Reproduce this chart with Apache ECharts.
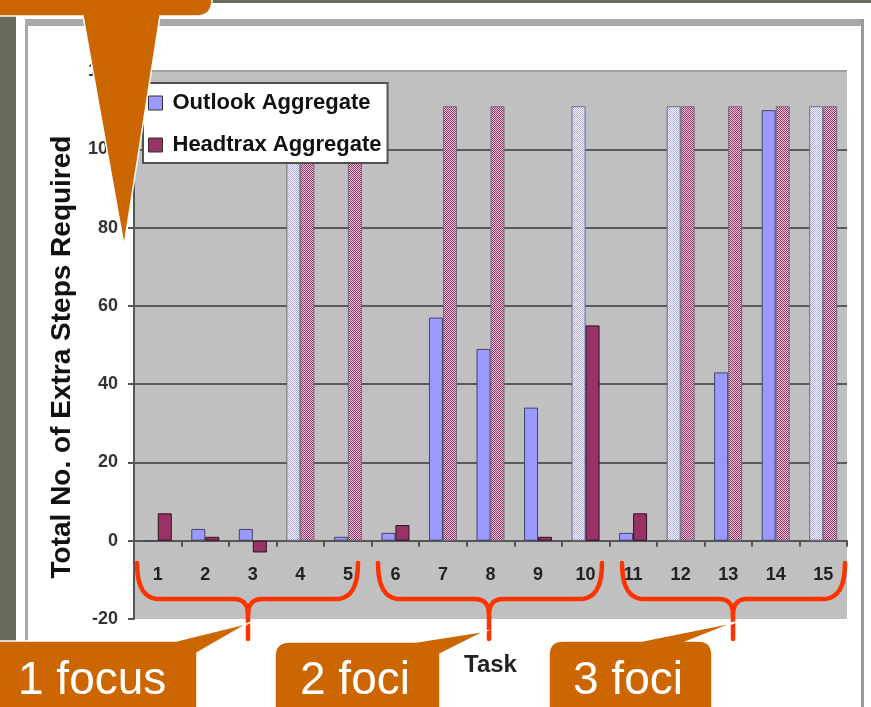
<!DOCTYPE html>
<html>
<head>
<meta charset="utf-8">
<script src="https://cdn.jsdelivr.net/npm/echarts@6/dist/echarts.min.js"></script>
<style>
  html, body { margin: 0; padding: 0; background: #ffffff; }
  #chart { width: 871px; height: 707px; }
</style>
</head>
<body>
<div id="chart"></div>
<script>
// Tasks on the x axis
const tasks = ['1', '2', '3', '4', '5', '6', '7', '8', '9', '10', '11', '12', '13', '14', '15'];

// Extra steps needed per task, for each tool
const outlookSteps = [0, 3, 3, 111, 1, 2, 57, 49, 34, 111, 2, 111, 43, 110, 111];
const headtraxSteps = [7, 1, -3, 111, 111, 4, 111, 111, 1, 55, 7, 111, 111, 111, 111];

// Bars that reach this ceiling are drawn with a checkered fill
const stepCeiling = 111;

// Value axis range and step
const yMin = -20;
const yMax = 120;
const yStep = 20;

// Grouping annotations under the task axis
const groupLabels = ['1 focus', '2 foci', '3 foci'];

const FONT = '"Liberation Sans", Arial, sans-serif';

function checker(a, b) {
  const c = document.createElement('canvas');
  c.width = 2; c.height = 2;
  const g = c.getContext('2d');
  g.fillStyle = b; g.fillRect(0, 0, 2, 2);
  g.fillStyle = a; g.fillRect(0, 0, 1, 1); g.fillRect(1, 1, 1, 1);
  return c;
}
const outlookHatch = { image: checker('#a8a8f4', '#ffffff'), repeat: 'repeat' };
const headtraxHatch = { image: checker('#993366', '#ecc8dc'), repeat: 'repeat' };

function styled(values, hatch) {
  return values.map(v => v >= stepCeiling
    ? { value: v, itemStyle: { color: hatch, borderColor: '#6c6c7c' } }
    : v);
}

const ORANGE = '#cc6600';
const RED = '#ff3300';

// sample a quadratic curve into points (start point excluded)
function quad(p0, c, p1, n) {
  const pts = [];
  for (let i = 1; i <= n; i++) {
    const t = i / n, u = 1 - t;
    pts.push([u * u * p0[0] + 2 * u * t * c[0] + t * t * p1[0],
              u * u * p0[1] + 2 * u * t * c[1] + t * t * p1[1]]);
  }
  return pts;
}

// one curly brace as two polylines meeting at the cusp
function brace(x1, xm, x2) {
  const top = 563, mid = 599, tip = 639, bend = mid + 16;
  const left = [[x1, top]]
    .concat(quad([x1, top], [x1, mid], [x1 + 22, mid], 10))
    .concat([[xm - 14, mid]])
    .concat(quad([xm - 14, mid], [xm, mid], [xm, bend], 8))
    .concat([[xm, tip]]);
  const right = [[xm, bend]]
    .concat(quad([xm, bend], [xm, mid], [xm + 14, mid], 8))
    .concat([[x2 - 22, mid]])
    .concat(quad([x2 - 22, mid], [x2, mid], [x2, top], 10));
  const st = { fill: null, stroke: RED, lineWidth: 4.5, lineCap: 'round', lineJoin: 'round' };
  return [
    { type: 'polyline', z: 90, shape: { points: left }, style: st },
    { type: 'polyline', z: 90, shape: { points: right }, style: st }
  ];
}

const calloutStyle = { fill: ORANGE, stroke: '#ffffff', lineWidth: 1.5 };
function callout(points) {
  return { type: 'polygon', z: 100, shape: { points: points }, style: calloutStyle };
}
const calloutText = (txt, x) => ({
  type: 'text', z: 110, x: x, y: 681,
  style: { text: txt, fill: '#ffffff', font: '46px ' + FONT, textVerticalAlign: 'middle' }
});

const topCallout = [[-5, -5], [212, -5], [212, 0]]
  .concat(quad([212, 0], [212, 16], [196, 16], 8))
  .concat([[160, 16], [124, 246], [83, 16], [-5, 16]]);
const focusCallout1 = [[-5, 712], [-5, 641], [176, 641], [249, 623], [197, 653], [197, 712]];
const focusCallout2 = [[275, 712], [275, 656]]
  .concat(quad([275, 656], [275, 642], [290, 642], 8))
  .concat([[416, 642], [486, 631], [440, 654], [440, 712]]);
const focusCallout3 = [[549, 712], [549, 655]]
  .concat(quad([549, 655], [549, 641], [563, 641], 8))
  .concat([[642, 641], [736, 622], [688, 641], [698, 641]])
  .concat(quad([698, 641], [712, 641], [712, 655], 8))
  .concat([[712, 712]]);

const chart = echarts.init(document.getElementById('chart'), null, { renderer: 'canvas' });
chart.setOption({
  animation: false,
  backgroundColor: '#ffffff',
  grid: {
    left: 134, right: 24, top: 71, bottom: 88,
    containLabel: false, outerBoundsMode: 'none',
    show: true, backgroundColor: '#c0c0c0', borderWidth: 0
  },
  legend: {
    orient: 'vertical', left: 143, top: 83,
    backgroundColor: '#ffffff', borderColor: '#505050', borderWidth: 2,
    padding: [9, 6, 7, 5], itemGap: 20, itemWidth: 14, itemHeight: 14,
    icon: 'rect',
    itemStyle: { borderColor: '#333333', borderWidth: 1 },
    textStyle: { fontFamily: FONT, fontWeight: 'bold', fontSize: 22, color: '#111111', lineHeight: 22, padding: [0, 0, 0, 5] }
  },
  xAxis: {
    type: 'category',
    data: tasks,
    axisLine: { onZero: true, lineStyle: { color: '#555555', width: 2 } },
    axisTick: { show: true, length: 6, lineStyle: { color: '#555555', width: 2 } },
    axisLabel: { margin: -53, fontFamily: FONT, fontSize: 18, fontWeight: 'bold', color: '#222222' },
    name: 'Task', nameLocation: 'middle', nameGap: 34,
    nameTextStyle: { fontFamily: FONT, fontSize: 24, fontWeight: 'bold', color: '#222222' },
    splitLine: { show: false }
  },
  yAxis: {
    type: 'value', min: yMin, max: yMax, interval: yStep,
    axisLine: { show: true, lineStyle: { color: '#555555', width: 2 } },
    axisTick: { show: true, length: 6, lineStyle: { color: '#555555', width: 2 } },
    axisLabel: { margin: 16, fontFamily: FONT, fontSize: 18, fontWeight: 'bold', color: '#333333' },
    splitLine: {
      show: true,
      lineStyle: {
        width: 2,
        color: ['rgba(0,0,0,0)', '#5a5a5a', '#5a5a5a', '#5a5a5a', '#5a5a5a', '#5a5a5a', '#5a5a5a', '#a0a0a0']
      }
    },
    name: 'Total No. of Extra Steps Required', nameLocation: 'middle', nameGap: 58, nameRotate: 90,
    nameTextStyle: { fontFamily: FONT, fontSize: 28, fontWeight: 'bold', color: '#111111', padding: [0, 24, 0, 0] }
  },
  series: [
    {
      name: 'Outlook Aggregate', type: 'bar', barWidth: 14, barGap: '0%',
      itemStyle: { color: '#9999ff', borderColor: '#454566', borderWidth: 1 },
      data: styled(outlookSteps, outlookHatch)
    },
    {
      name: 'Headtrax Aggregate', type: 'bar', barWidth: 14, barGap: '0%',
      itemStyle: { color: '#993366', borderColor: '#2a1420', borderWidth: 1 },
      data: styled(headtraxSteps, headtraxHatch)
    }
  ],
  graphic: [
    // slide backdrop and chart frame
    { type: 'rect', z: -1, shape: { x: 0, y: 0, width: 16, height: 707 }, style: { fill: '#6a6b5d' } },
    { type: 'rect', z: -1, shape: { x: 0, y: 0, width: 871, height: 3 }, style: { fill: '#6a6b5d' } },
    { type: 'rect', z: -1, shape: { x: 25, y: 19, width: 839, height: 7 }, style: { fill: '#a8a8a8' } },
    { type: 'rect', z: -1, shape: { x: 25, y: 19, width: 3, height: 688 }, style: { fill: '#a8a8a8' } },
    { type: 'rect', z: -1, shape: { x: 861, y: 19, width: 3, height: 688 }, style: { fill: '#9a9a9a' } }
  ]
    .concat(brace(137, 248, 358))
    .concat(brace(378, 489, 602))
    .concat(brace(622, 733, 845))
    .concat([
      callout(topCallout),
      callout(focusCallout1),
      callout(focusCallout2),
      callout(focusCallout3),
      calloutText(groupLabels[0], 18),
      calloutText(groupLabels[1], 300),
      calloutText(groupLabels[2], 573)
    ])
});
</script>
</body>
</html>
